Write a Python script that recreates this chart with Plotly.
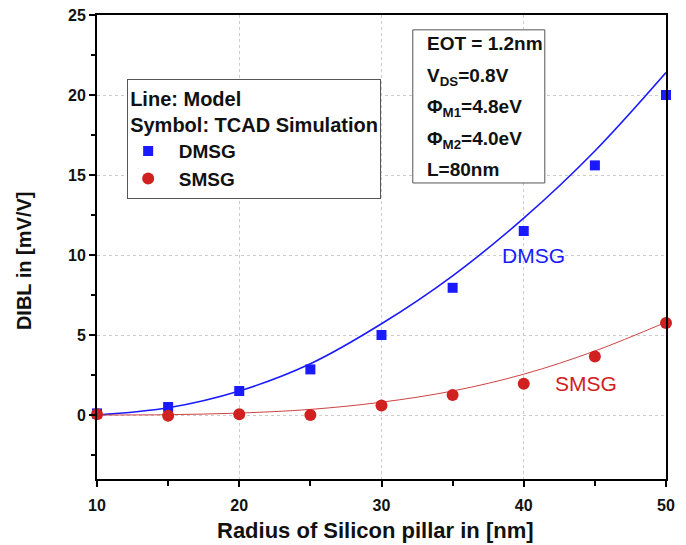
import plotly.graph_objects as go

radius = [10, 15, 20, 25, 30, 35, 40, 45, 50]
dmsg_tcad = [0.1, 0.5, 1.5, 2.85, 5.0, 7.95, 11.5, 15.6, 20.0]
smsg_tcad = [0.05, -0.05, 0.05, 0.0, 0.6, 1.25, 1.95, 3.65, 5.75]
dmsg_model = [0.0, 0.45, 1.5, 3.2, 5.7, 8.7, 12.3, 16.5, 21.4]
smsg_model = [0.0, 0.02, 0.12, 0.35, 0.8, 1.5, 2.55, 4.0, 5.8]
param_lines = ["EOT = 1.2nm", "V<sub>DS</sub>=0.8V", "Φ<sub>M1</sub>=4.8eV", "Φ<sub>M2</sub>=4.0eV", "L=80nm"]
x_title = "Radius of Silicon pillar in [nm]"
y_title = "DIBL in [mV/V]"

BLUE = "#1a1aff"
RED = "#d02020"
FONT = "Liberation Sans, Arial, sans-serif"
NB = "\u00a0\u00a0"

fig = go.Figure()
fig.add_trace(go.Scatter(x=radius, y=dmsg_model, mode="lines", line=dict(color=BLUE, width=1.6, shape="spline"),
                         showlegend=False, hoverinfo="skip"))
fig.add_trace(go.Scatter(x=radius, y=smsg_model, mode="lines", line=dict(color="#cc4444", width=1, shape="spline"),
                         showlegend=False, hoverinfo="skip"))
fig.add_trace(go.Scatter(x=radius, y=dmsg_tcad, mode="markers", name=NB + "DMSG",
                         marker=dict(symbol="square", size=10, color=BLUE), cliponaxis=False))
fig.add_trace(go.Scatter(x=radius, y=smsg_tcad, mode="markers", name=NB + "SMSG",
                         marker=dict(symbol="circle", size=12, color=RED), cliponaxis=False))

fig.add_annotation(x=40.7, y=9.95, text="DMSG", showarrow=False, font=dict(color=BLUE, size=21, family=FONT),
                   xanchor="center", yanchor="middle")
fig.add_annotation(x=44.4, y=2.0, text="SMSG", showarrow=False, font=dict(color=RED, size=21, family=FONT),
                   xanchor="center", yanchor="middle")

# axis titles
fig.add_annotation(xref="paper", yref="paper", x=0.49, y=-0.112, xanchor="center", yanchor="middle",
                   text="<b>" + x_title + "</b>", showarrow=False, font=dict(size=22, family=FONT, color="#111111"))
fig.add_annotation(xref="paper", yref="paper", x=-0.128, y=0.47, xanchor="center", yanchor="middle",
                   textangle=-90, text="<b>" + y_title + "</b>", showarrow=False,
                   font=dict(size=20, family=FONT, color="#111111"))

# parameter box
fig.add_shape(type="rect", xref="paper", yref="paper", x0=0.555, x1=0.787, y0=0.638, y1=0.968,
              line=dict(color="#555555", width=1), fillcolor="white", layer="above")
param_y = [0.938, 0.866, 0.799, 0.730, 0.668]
for txt, yy in zip(param_lines, param_y):
    fig.add_annotation(xref="paper", yref="paper", x=0.577, y=yy, xanchor="left", yanchor="middle",
                       text="<b>" + txt + "</b>", showarrow=False,
                       font=dict(size=19, family=FONT, color="#111111"))

fig.update_layout(
    width=686, height=545,
    margin=dict(l=97, r=20, t=15, b=66),
    paper_bgcolor="white", plot_bgcolor="white",
    font=dict(family=FONT, size=16, color="#111111"),
    legend=dict(x=0.053, y=0.862, xanchor="left", yanchor="top",
                title=dict(text="<b>Line: Model<br>Symbol: TCAD Simulation</b>", font=dict(size=20, family=FONT)),
                font=dict(size=19, family=FONT, color="#111111", weight="bold"),
                bordercolor="#555555", borderwidth=1, bgcolor="white", itemwidth=30, tracegroupgap=0),
    xaxis=dict(range=[10, 50], dtick=10, tick0=10, showline=True, linecolor="black", linewidth=2, mirror=True,
               ticks="outside", ticklen=6, tickwidth=2, tickcolor="black", automargin=False,
               ticklabelstandoff=5,
               minor=dict(dtick=5, ticks="outside", ticklen=5, tickwidth=2, tickcolor="black", showgrid=False),
               showgrid=True, gridcolor="#cccccc", griddash="dot", gridwidth=1, zeroline=False,
               tickfont=dict(size=16, family=FONT, weight="bold")),
    yaxis=dict(range=[-4, 25], dtick=5, tick0=0, showline=True, linecolor="black", linewidth=2, mirror=True,
               ticks="outside", ticklen=6, tickwidth=2, tickcolor="black", automargin=False,
               minor=dict(dtick=2.5, ticks="outside", ticklen=4, tickwidth=2, tickcolor="black", showgrid=False),
               showgrid=True, gridcolor="#cccccc", griddash="dot", gridwidth=1, zeroline=False,
               tickfont=dict(size=16, family=FONT, weight="bold")),
)

fig.write_html("out.html")
